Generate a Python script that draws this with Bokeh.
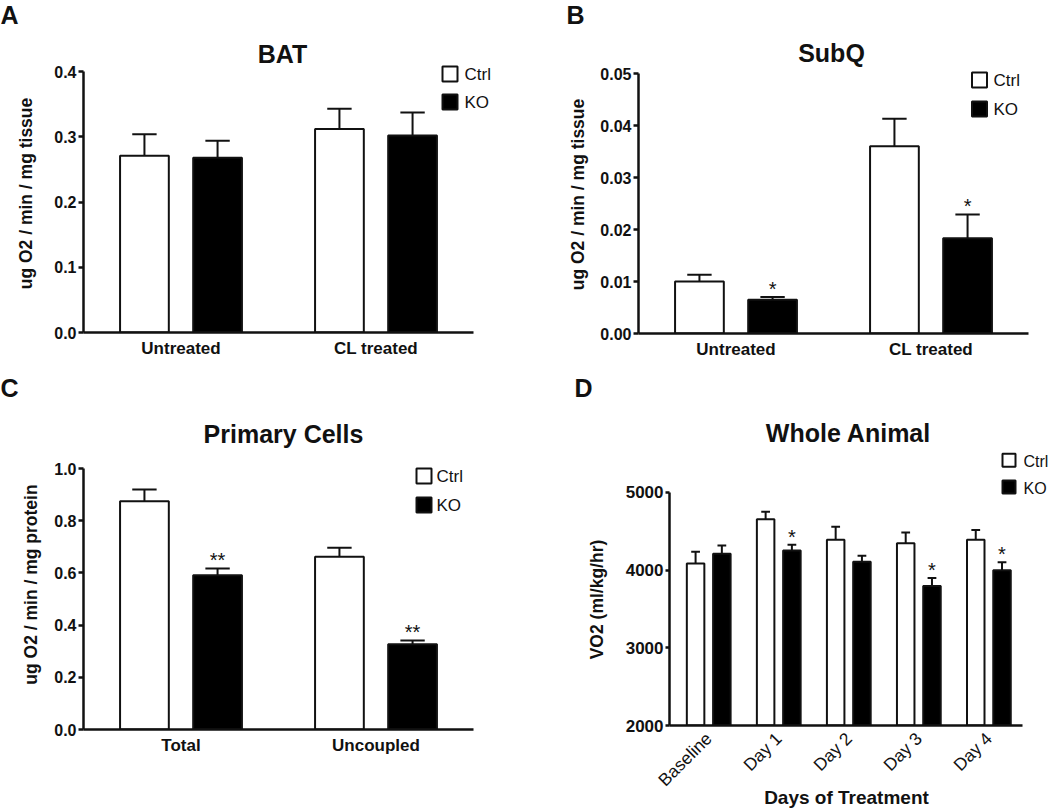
import math
from bokeh.plotting import figure
from bokeh.models import Range1d, FixedTicker
from bokeh.layouts import row, column
from bokeh.embed import file_html
from bokeh.resources import INLINE
from bokeh.core.properties import value

# ---------------- data ----------------
series_names = ["Ctrl", "KO"]
series_fill = ["white", "black"]

ab_groups = ["Untreated", "CL treated"]
bat_ctrl = [0.271, 0.312]
bat_ctrl_err = [0.033, 0.031]
bat_ko = [0.268, 0.302]
bat_ko_err = [0.026, 0.035]
bat_ko_sig = ["", ""]

subq_ctrl = [0.0100, 0.0360]
subq_ctrl_err = [0.0013, 0.0053]
subq_ko = [0.0065, 0.0183]
subq_ko_err = [0.0005, 0.0046]
subq_ko_sig = ["*", "*"]

cells_groups = ["Total", "Uncoupled"]
cells_ctrl = [0.875, 0.662]
cells_ctrl_err = [0.045, 0.034]
cells_ko = [0.591, 0.327]
cells_ko_err = [0.026, 0.014]
cells_ko_sig = ["**", "**"]

days = ["Baseline", "Day 1", "Day 2", "Day 3", "Day 4"]
vo2_ctrl = [4087, 4654, 4390, 4347, 4390]
vo2_ctrl_err = [149, 99, 170, 137, 128]
vo2_ko = [4211, 4253, 4108, 3797, 3997]
vo2_ko_err = [106, 73, 77, 102, 103]
vo2_ko_sig = ["", "*", "", "*", "*"]

bat_ticks = [0.0, 0.1, 0.2, 0.3, 0.4]
bat_tick_labels = ["0.0", "0.1", "0.2", "0.3", "0.4"]
subq_ticks = [0.0, 0.01, 0.02, 0.03, 0.04, 0.05]
subq_tick_labels = ["0.00", "0.01", "0.02", "0.03", "0.04", "0.05"]
cells_ticks = [0.0, 0.2, 0.4, 0.6, 0.8, 1.0]
cells_tick_labels = ["0.0", "0.2", "0.4", "0.6", "0.8", "1.0"]
vo2_ticks = [2000, 3000, 4000, 5000]
vo2_tick_labels = ["2000", "3000", "4000", "5000"]

FONT = "Liberation Sans"
INK = "#111111"
BAR_W = 0.25
OFF = 0.1875


def base_fig(w, h, xr, yr, **kw):
    f = figure(width=w, height=h, x_range=xr, y_range=yr,
               output_backend="svg", toolbar_location=None,
               background_fill_color="white", border_fill_color="white", **kw)
    f.outline_line_color = None
    return f


def strip(x0, x1, y0, y1):
    """A plain text area whose ranges follow the picture's pixel grid."""
    f = base_fig(x1 - x0, y1 - y0, Range1d(x0, x1), Range1d(y1, y0),
                 x_axis_type=None, y_axis_type=None,
                 min_border=0, min_border_left=0, min_border_right=0,
                 min_border_top=0, min_border_bottom=0)
    f.grid.visible = False
    return f


def put_text(f, x, y, text, size, style="bold", align="left", angle=0.0):
    f.text(x=[x], y=[y], text=[text], text_font=value(FONT),
           text_font_size=size, text_font_style=style, text_color=INK,
           text_align=align, text_baseline="middle", angle=angle)


def put_box(f, x, y, fill, size):
    f.scatter(x=[x], y=[y], marker="square", size=size, fill_color=fill,
              line_color=INK, line_width=2)


class Main:
    def __init__(self, x0, x1, y0, y1, left, axis_right, axis_top, axis_bottom,
                 xlo, xhi, ylo, yhi):
        self.left, self.axis_bottom = left, axis_bottom
        self.xlo, self.xhi, self.ylo, self.yhi = xlo, xhi, ylo, yhi
        w, h = x1 - x0, y1 - y0
        self.xppu = (axis_right - left) / (xhi - xlo)
        self.ppu = (axis_bottom - axis_top) / (yhi - ylo)
        x_end = xhi + (x1 - axis_right) / self.xppu
        y_end = yhi + (axis_top - y0) / self.ppu
        self.p = base_fig(w, h, Range1d(xlo, x_end), Range1d(ylo, y_end),
                          min_border_left=left - x0, min_border_right=0,
                          min_border_top=0, min_border_bottom=h - (axis_bottom - y0))
        self.p.grid.visible = False

    def x(self, rx):
        return self.xlo + (rx - self.left) / self.xppu

    def y(self, ry):
        return self.ylo + (self.axis_bottom - ry) / self.ppu

    def text(self, rx, ry, text, size, **kw):
        put_text(self.p, self.x(rx), self.y(ry), text, size, **kw)


def style_axes(m, ticks, tick_labels, groups, tick_font="16px", cat_font="17px",
               cat_style="bold", orientation="horizontal", tick_out=5,
               cat_standoff=6):
    p = m.p
    ya = p.yaxis[0]
    ya.ticker = FixedTicker(ticks=ticks)
    ya.major_label_overrides = {t: l for t, l in zip(ticks, tick_labels)}
    ya.bounds = (m.ylo, m.yhi)
    ya.axis_line_width = 2.5
    ya.axis_line_color = INK
    ya.major_tick_line_width = 2.5
    ya.major_tick_line_color = INK
    ya.major_tick_out = tick_out
    ya.major_tick_in = 0
    ya.minor_tick_line_color = None
    ya.major_label_standoff = 2
    ya.major_label_text_font = FONT
    ya.major_label_text_font_size = tick_font
    ya.major_label_text_font_style = "bold"
    ya.major_label_text_color = INK

    xa = p.xaxis[0]
    xs = list(range(1, len(groups) + 1))
    xa.ticker = FixedTicker(ticks=xs)
    xa.major_label_overrides = {x: g for x, g in zip(xs, groups)}
    xa.bounds = (m.xlo, m.xhi)
    xa.axis_line_width = 2.5
    xa.axis_line_color = INK
    xa.major_tick_line_color = None
    xa.major_tick_out = 0
    xa.major_tick_in = 0
    xa.minor_tick_line_color = None
    xa.major_label_standoff = cat_standoff
    xa.major_label_text_font = FONT
    xa.major_label_text_font_size = cat_font
    xa.major_label_text_font_style = cat_style
    xa.major_label_text_color = INK
    xa.major_label_orientation = orientation


def draw_bars(m, ctrl, ctrl_err, ko, ko_err, sig):
    p = m.p
    xs = list(range(1, len(ctrl) + 1))
    for vals, errs, off, fill in ((ctrl, ctrl_err, -OFF, series_fill[0]),
                                  (ko, ko_err, OFF, series_fill[1])):
        xc = [x + off for x in xs]
        tops = [v + e for v, e in zip(vals, errs)]
        p.segment(x0=xc, y0=vals, x1=xc, y1=tops, line_color=INK, line_width=2)
        p.segment(x0=[x - BAR_W / 4 for x in xc], y0=tops,
                  x1=[x + BAR_W / 4 for x in xc], y1=tops,
                  line_color=INK, line_width=2)
        p.vbar(x=xc, top=vals, bottom=m.ylo, width=BAR_W, fill_color=fill,
               line_color=INK, line_width=2)
    ko_x = [x + OFF for x in xs]
    ko_top = [v + e for v, e in zip(ko, ko_err)]
    p.text(x=ko_x, y=ko_top, text=sig, text_align="center",
           text_baseline="middle", text_font=value(FONT),
           text_font_size="20px", text_color=INK, y_offset=-8)


def legend_rows(f_box, f_text, bx, by_list, size, tx, font):
    """f_box/f_text: (figure, x-map, y-map) per legend row."""
    for i, (name, fill, by) in enumerate(zip(series_names, series_fill, by_list)):
        fb, ft = f_box[i], f_text[i]
        put_box(fb[0], fb[1](bx), fb[2](by), fill, size)
        put_text(ft[0], ft[1](tx), ft[2](by), name, font, style="normal")


def ident(v):
    return v


VERT = math.pi / 2

# ---------------- Panel A: BAT ----------------
sA = strip(0, 45, 0, 368)
put_text(sA, 0, 14.5, "A", "25px")
put_text(sA, 25.5, 193, "ug O2 / min / mg tissue", "17.5px", align="center", angle=VERT)
A = Main(45, 525, 0, 368, 83, 473, 71, 332, 0.5, 2.5, 0.0, 0.4)
style_axes(A, bat_ticks, bat_tick_labels, ab_groups)
draw_bars(A, bat_ctrl, bat_ctrl_err, bat_ko, bat_ko_err, bat_ko_sig)
A.text(282, 53.5, "BAT", "25px", align="center")
mA = (A.p, A.x, A.y)
legend_rows([mA, mA], [mA, mA], 449.5, [73.5, 101.5], 15, 464, "17px")

# ---------------- Panel B: SubQ ----------------
sB = strip(525, 593, 0, 368)
put_text(sB, 566, 14.5, "B", "25px")
put_text(sB, 577, 194, "ug O2 / min / mg tissue", "17.5px", align="center", angle=VERT)
Bm = Main(593, 1050, 0, 368, 638, 1028, 73, 333, 0.5, 2.5, 0.0, 0.05)
style_axes(Bm, subq_ticks, subq_tick_labels, ab_groups)
draw_bars(Bm, subq_ctrl, subq_ctrl_err, subq_ko, subq_ko_err, subq_ko_sig)
Bm.text(831, 52.5, "SubQ", "25px", align="center")
mB = (Bm.p, Bm.x, Bm.y)
legend_rows([mB, mB], [mB, mB], 979, [79.5, 108.5], 15, 993, "17px")

# ---------------- Panel C: Primary Cells ----------------
sC = strip(0, 45, 368, 811)
put_text(sC, 0, 387, "C", "25px")
put_text(sC, 30, 584, "ug O2 / min / mg protein", "17.5px", align="center", angle=VERT)
C = Main(45, 525, 368, 811, 83, 473, 468, 729, 0.5, 2.5, 0.0, 1.0)
style_axes(C, cells_ticks, cells_tick_labels, cells_groups)
draw_bars(C, cells_ctrl, cells_ctrl_err, cells_ko, cells_ko_err, cells_ko_sig)
C.text(283, 433.7, "Primary Cells", "25px", align="center")
mC = (C.p, C.x, C.y)
legend_rows([mC, mC], [mC, mC], 423.5, [475.5, 504.5], 15, 436, "17px")

# ---------------- Panel D: Whole Animal ----------------
sD = strip(525, 615, 368, 811)
put_text(sD, 574, 387, "D", "25px")
put_text(sD, 596.5, 599, "VO2 (ml/kg/hr)", "17.5px", align="center", angle=VERT)
D = Main(615, 1023, 368, 811, 669, 1022, 493, 728, 0.44, 5.48, 2000, 5000)
style_axes(D, vo2_ticks, vo2_tick_labels, days, tick_font="17px",
           cat_font="17.5px", cat_style="normal", orientation=math.pi / 4,
           tick_out=4, cat_standoff=10)
xa = D.p.xaxis[0]
xa.axis_label = "Days of Treatment"
xa.axis_label_standoff = -13
xa.axis_label_text_font = FONT
xa.axis_label_text_font_size = "19px"
xa.axis_label_text_font_style = "bold"
xa.axis_label_text_color = INK
draw_bars(D, vo2_ctrl, vo2_ctrl_err, vo2_ko, vo2_ko_err, vo2_ko_sig)
D.text(848, 433.5, "Whole Animal", "25px", align="center")
rD = strip(1023, 1050, 368, 811)
mD = (D.p, D.x, D.y)
mRD = (rD, ident, ident)
legend_rows([mD, mD], [mRD, mRD], 1008.5, [460.5, 487.5], 13, 1023, "16px")

layout = column(
    row(column(sA), column(A.p), column(sB), column(Bm.p)),
    row(column(sC), column(C.p), column(sD), column(D.p), column(rD)),
)
open("out.html", "w").write(file_html(layout, INLINE))
